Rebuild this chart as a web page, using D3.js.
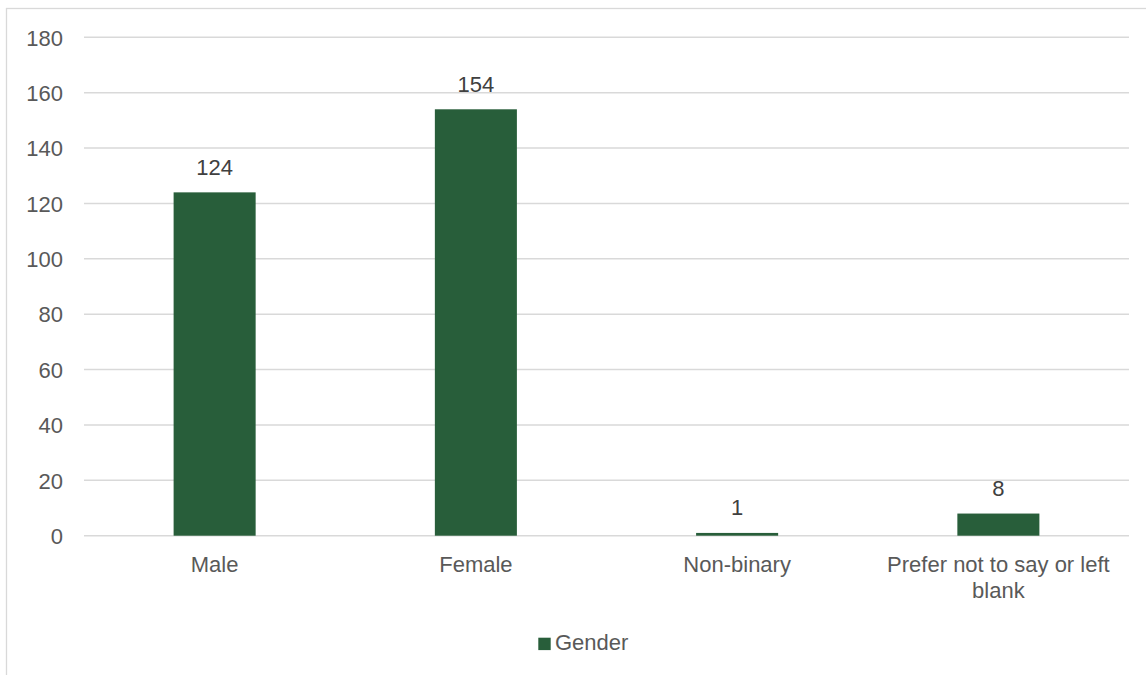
<!DOCTYPE html>
<html>
<head>
<meta charset="utf-8">
<script src="https://cdn.jsdelivr.net/npm/d3@7"></script>
<style>
  html, body { margin: 0; padding: 0; background: #ffffff; }
  svg { display: block; font-family: "Liberation Sans", Arial, sans-serif; }
</style>
</head>
<body>
<svg id="chart" width="1146" height="675"></svg>
<script>
// Survey respondents by gender
const categories = ["Male", "Female", "Non-binary", "Prefer not to say or left blank"];
const counts = [124, 154, 1, 8];
const yTicks = [0, 20, 40, 60, 80, 100, 120, 140, 160, 180];
const seriesName = "Gender";

const svg = d3.select("#chart");
const barColor = "#285e3a";
const fontSize = 22;

// Chart area outline (extends past the right and bottom edges)
svg.append("rect")
  .attr("x", 6.5).attr("y", 8.5)
  .attr("width", 1200).attr("height", 700)
  .attr("fill", "none")
  .attr("stroke", "#d9d9d9")
  .attr("stroke-width", 1.3);

const plot = { left: 84, right: 1129, top: 37.3, bottom: 535.7 };

const x = d3.scaleBand()
  .domain(categories)
  .range([plot.left, plot.right])
  .paddingInner(0.686)
  .paddingOuter(0.343);

const y = d3.scaleLinear()
  .domain([0, 180])
  .range([plot.bottom, plot.top]);

// Horizontal gridlines
svg.append("g")
  .selectAll("line")
  .data(yTicks)
  .join("line")
  .attr("x1", plot.left).attr("x2", plot.right)
  .attr("y1", d => y(d)).attr("y2", d => y(d))
  .attr("stroke", "#d9d9d9")
  .attr("stroke-width", 1.4);

// Y axis labels
const yAxis = d3.axisLeft(y).tickValues(yTicks).tickSize(0).tickPadding(0);
const yG = svg.append("g")
  .attr("transform", `translate(${63},0)`)
  .call(yAxis);
yG.select(".domain").remove();
yG.selectAll("text")
  .attr("fill", "#595959")
  .attr("font-size", fontSize)
  .attr("font-family", "Liberation Sans, Arial, sans-serif")
  .attr("dy", "0.35em");

// Bars
svg.append("g")
  .selectAll("rect")
  .data(categories.map((c, i) => ({ c, v: counts[i] })))
  .join("rect")
  .attr("x", d => x(d.c))
  .attr("width", x.bandwidth())
  .attr("y", d => y(d.v))
  .attr("height", d => y(0) - y(d.v))
  .attr("fill", barColor);

// Value labels above the bars
svg.append("g")
  .selectAll("text")
  .data(categories.map((c, i) => ({ c, v: counts[i] })))
  .join("text")
  .attr("x", d => x(d.c) + x.bandwidth() / 2)
  .attr("y", d => y(d.v) - 17.5)
  .attr("text-anchor", "middle")
  .attr("font-size", fontSize)
  .attr("fill", "#404040")
  .text(d => d.v);

// Category labels, wrapped to fit the category width
const xAxis = d3.axisBottom(x).tickSize(0).tickPadding(0);
const xG = svg.append("g")
  .attr("transform", `translate(0,${plot.bottom})`)
  .call(xAxis);
xG.select(".domain").remove();
xG.selectAll("text")
  .attr("fill", "#595959")
  .attr("font-size", fontSize)
  .attr("font-family", "Liberation Sans, Arial, sans-serif")
  .attr("dy", null)
  .attr("y", 36.5)
  .each(function (d) {
    const maxWidth = x.step() - 6;
    const t = d3.select(this);
    const words = d.split(" ");
    t.text(null);
    let line = [];
    let lineNo = 0;
    let tspan = t.append("tspan").attr("x", 0).attr("y", 36.5);
    words.forEach(w => {
      line.push(w);
      tspan.text(line.join(" "));
      if (tspan.node().getComputedTextLength() > maxWidth && line.length > 1) {
        line.pop();
        tspan.text(line.join(" "));
        line = [w];
        lineNo++;
        tspan = t.append("tspan").attr("x", 0).attr("y", 36.5 + lineNo * 25.5).text(w);
      }
    });
  });

// Legend
const legend = svg.append("g");
legend.append("rect")
  .attr("x", 538.3).attr("y", 637.7)
  .attr("width", 12.4).attr("height", 12.4)
  .attr("fill", barColor);
legend.append("text")
  .attr("x", 555)
  .attr("y", 650)
  .attr("font-size", fontSize)
  .attr("fill", "#595959")
  .text(seriesName);
</script>
</body>
</html>
